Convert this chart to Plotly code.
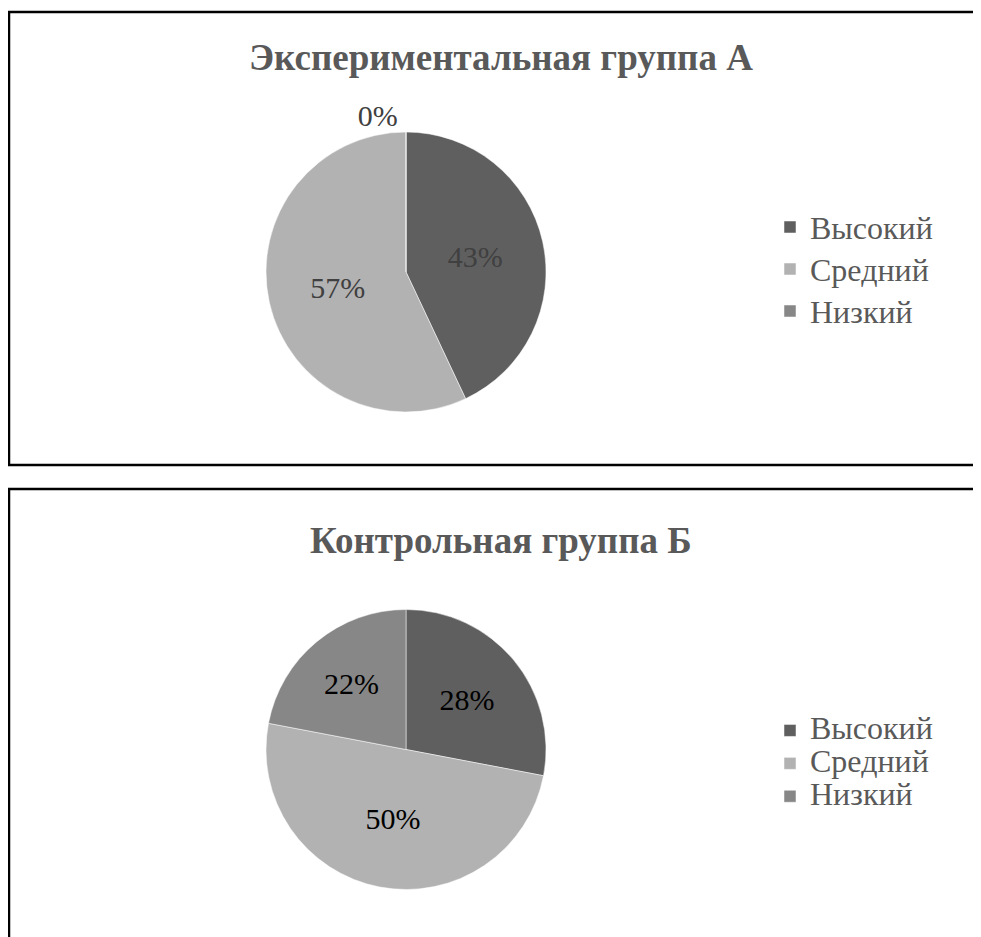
import plotly.graph_objects as go

categories = ["Высокий", "Средний", "Низкий"]
values_a = [43, 57, 0]
values_b = [28, 50, 22]
title_a = "Экспериментальная группа А"
title_b = "Контрольная группа Б"

colors = ["#5f5f5f", "#b2b2b2", "#878787"]
W, H = 981, 937
OFF = 8  # default body margin of the page
FONT = "Liberation Serif"

def px_x(v):
    return (v - OFF) / W

def px_y(v):
    return 1 - (v - OFF) / H

labels_a = ['<span style="font-size:32px">%s</span>' % c for c in categories]
labels_b = ['<span style="font-size:32px">%s</span> ' % c for c in categories]

fig = go.Figure()

fig.add_trace(go.Pie(
    labels=labels_a, values=values_a, sort=False, direction="clockwise",
    rotation=0, marker=dict(colors=colors, line=dict(color="white", width=0.5)),
    texttemplate="%{percent:.0%}", textposition=["inside", "inside", "outside"],
    insidetextorientation="horizontal",
    textfont=dict(family=FONT, size=30, color="#404040"),
    domain=dict(x=[px_x(266), px_x(546)], y=[px_y(412), px_y(132)]),
    legend="legend", showlegend=True, hoverinfo="percent",
))
fig.add_trace(go.Pie(
    labels=labels_b, values=values_b, sort=False, direction="clockwise",
    rotation=0, marker=dict(colors=colors, line=dict(color="white", width=0.5)),
    texttemplate="%{percent:.0%}", textposition="inside",
    insidetextorientation="horizontal",
    textfont=dict(family=FONT, size=30, color="#000000"),
    domain=dict(x=[px_x(266), px_x(546)], y=[px_y(890), px_y(609)]),
    legend="legend2", showlegend=True, hoverinfo="percent",
))

shapes = [
    dict(type="rect", xref="paper", yref="paper",
         x0=px_x(9), x1=px_x(1010), y0=px_y(465), y1=px_y(12),
         line=dict(color="black", width=2.5), fillcolor="rgba(0,0,0,0)"),
    dict(type="rect", xref="paper", yref="paper",
         x0=px_x(9), x1=px_x(1010), y0=px_y(980), y1=px_y(489),
         line=dict(color="black", width=2.5), fillcolor="rgba(0,0,0,0)"),
]

annotations = [
    dict(text="<b>%s</b>" % title_a, x=px_x(501), y=px_y(57), xref="paper", yref="paper",
         showarrow=False, xanchor="center", yanchor="middle",
         font=dict(family=FONT, size=37, color="#595959")),
    dict(text="<b>%s</b>" % title_b, x=px_x(501), y=px_y(540), xref="paper", yref="paper",
         showarrow=False, xanchor="center", yanchor="middle",
         font=dict(family=FONT, size=37, color="#595959")),
]

legend_common = dict(
    bgcolor="rgba(0,0,0,0)", xanchor="left", yanchor="top",
    itemclick=False, itemdoubleclick=False,
)

fig.update_layout(
    width=W, height=H, margin=dict(l=0, r=0, t=0, b=0),
    font=dict(family=FONT),
    paper_bgcolor="white", plot_bgcolor="white",
    shapes=shapes, annotations=annotations,
    legend=dict(x=px_x(770), y=px_y(201),
                font=dict(family=FONT, size=30, color="#595959"), **legend_common),
    legend2=dict(x=px_x(770), y=px_y(709),
                 font=dict(family=FONT, size=23, color="#595959"), **legend_common),
)

fig.write_html("out.html")
